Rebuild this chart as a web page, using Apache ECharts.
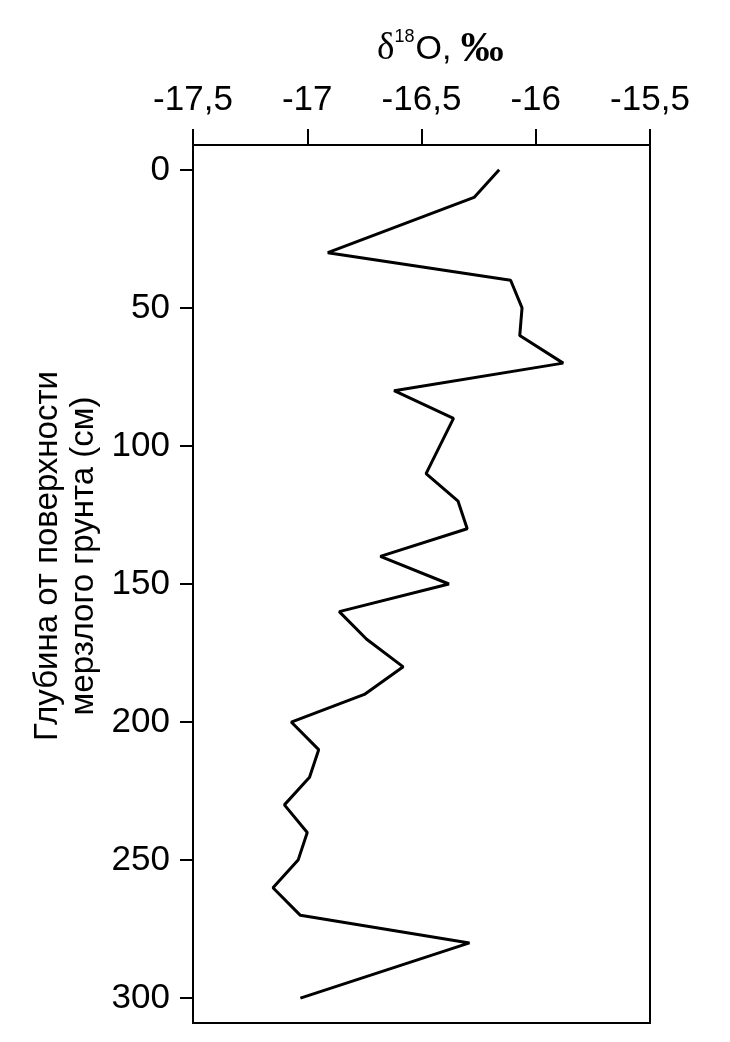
<!DOCTYPE html>
<html><head><meta charset="utf-8">
<script src="https://cdn.jsdelivr.net/npm/echarts@6/dist/echarts.min.js"></script>
<style>html,body{margin:0;padding:0;background:#fff}#c{width:730px;height:1042px}</style>
</head><body><div id="c"></div>
<script>
const depths = [0,10,30,40,50,60,70,80,90,110,120,130,140,150,160,170,180,190,200,210,220,230,240,250,260,270,280,300];
const d18O = [-16.16,-16.27,-16.91,-16.11,-16.06,-16.07,-15.88,-16.62,-16.36,-16.48,-16.34,-16.30,-16.68,-16.38,-16.86,-16.74,-16.58,-16.75,-17.07,-16.95,-16.99,-17.10,-17.00,-17.04,-17.15,-17.03,-16.29,-17.03];
const depthTicks = [0,50,100,150,200,250,300];
const yAxisTitle = 'Глубина от поверхности\nмерзлого грунта (см)';

const chart = echarts.init(document.getElementById('c'), null, {renderer:'canvas'});
const F = 'Liberation Sans, Arial, sans-serif';
const SERIF = 'Liberation Serif, Times New Roman, serif';
chart.setOption({
  animation:false,
  backgroundColor:'#fff',
  grid:{left:193,right:80,top:145,bottom:19,show:true,borderColor:'#000',borderWidth:2,backgroundColor:'transparent'},
  xAxis:{type:'value',position:'top',min:-17.5,max:-15.5,interval:0.5,
    axisLine:{show:true,onZero:false,lineStyle:{color:'#000',width:2}},
    axisTick:{show:true,inside:false,length:16,lineStyle:{color:'#000',width:2}},
    splitLine:{show:false},
    axisLabel:{color:'#000',fontFamily:F,fontSize:35,margin:27,formatter:v=>String(v).replace('.',',')}
  },
  yAxis:{type:'value',inverse:true,min:-9,max:309,
    axisLine:{show:true,onZero:false,lineStyle:{color:'#000',width:2}},
    axisTick:{show:true,length:13,customValues:depthTicks,lineStyle:{color:'#000',width:2}},
    splitLine:{show:false},
    axisLabel:{color:'#000',fontFamily:F,fontSize:35,margin:23,customValues:depthTicks}
  },
  graphic:[
    {type:'text',x:377,y:71,style:{
      text:'{d|δ}{s|18}{o|O, }{p|‰}',
      verticalAlign:'bottom',textVerticalAlign:'bottom',
      rich:{
        d:{fontFamily:SERIF,fontSize:37,fill:'#000',color:'#000'},
        s:{fontFamily:F,fontSize:18,fill:'#000',color:'#000',verticalAlign:'top',padding:[0,1,16,0]},
        o:{fontFamily:F,fontSize:34,fill:'#000',color:'#000'},
        p:{fontFamily:SERIF,fontWeight:'bold',fontSize:43,fill:'#000',color:'#000'}
      }}},
    {type:'text',x:66,y:556,rotation:Math.PI/2,style:{
      text:yAxisTitle,fontFamily:F,fontSize:33,lineHeight:36,fill:'#000',
      align:'center',verticalAlign:'middle',textAlign:'center',textVerticalAlign:'middle'}}
  ],
  series:[{type:'line',data:d18O.map((v,i)=>[v,depths[i]]),showSymbol:false,symbol:'none',
    lineStyle:{color:'#000',width:3},z:5}]
});
</script></body></html>
